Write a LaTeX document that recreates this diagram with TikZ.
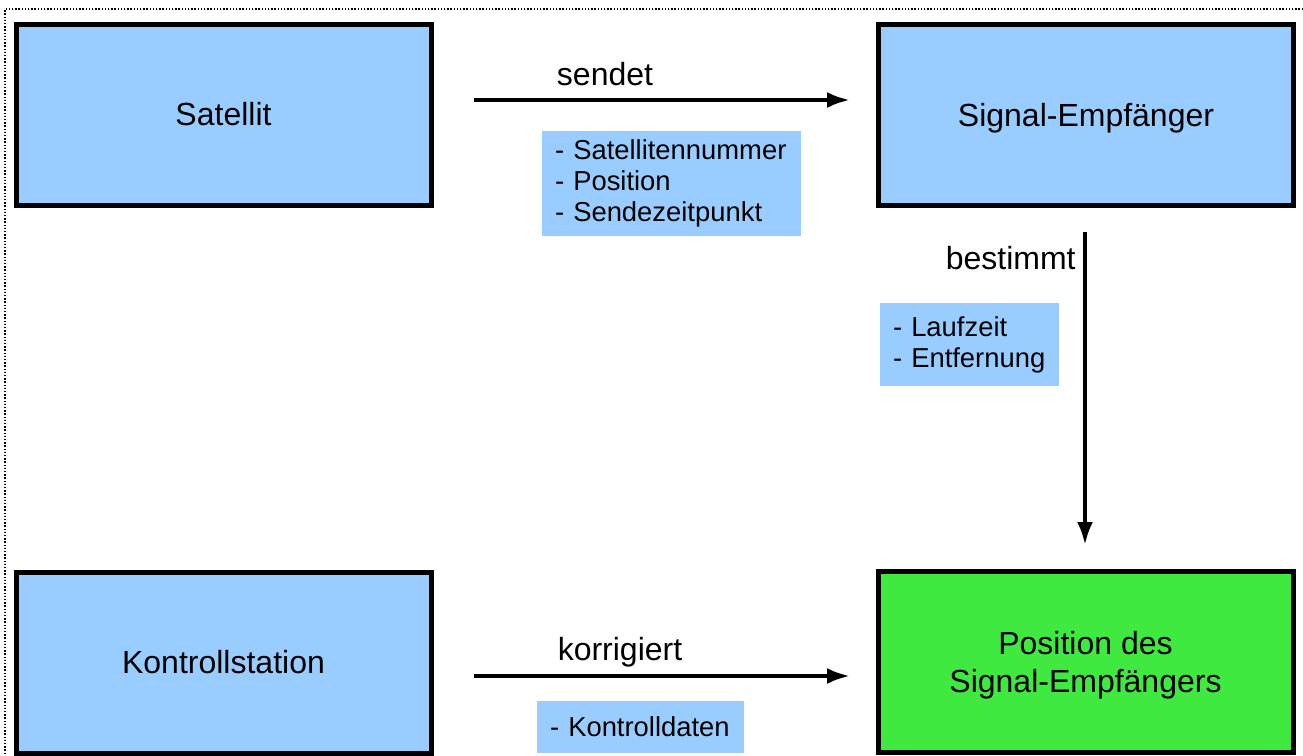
\documentclass[tikz,border=0pt]{standalone}
\usepackage{fontspec}
\setmainfont{Liberation Sans}
\usetikzlibrary{arrows.meta}
\definecolor{boxblue}{HTML}{99CCFF}
\definecolor{boxgreen}{HTML}{3FE93F}

\begin{document}
\begin{tikzpicture}[x=0.5pt, y=-0.5pt,
		block/.style={draw=black, line width=2.5pt, fill=boxblue, minimum width=207.5pt, minimum height=90.5pt, align=center, font=\fontsize{16}{19}\selectfont},
		infobox/.style={fill=boxblue, inner xsep=6.5pt, inner ysep=0pt, align=left, font=\fontsize{13.7}{15.5}\selectfont},
		verb/.style={inner sep=0pt, font=\fontsize{16}{19}\selectfont},
		flow/.style={line width=2pt, -{Latex[length=11.5pt, width=8pt]}},
		frame/.style={line width=0.7pt, dash pattern=on 0.7pt off 0.9pt}]
		%%%%% START %%%%%
		
		\useasboundingbox (0, 0) rectangle (1303, 756);
		\draw[frame] (1303, 9) -- (5, 9) -- (5, 756);
		
		\node[block] (sat) at (223.5, 114.5) {Satellit};
		\node[block, text depth=0pt] (empf) at (1086, 114.5) {Signal-Empfänger};
		\node[block] (kontr) at (223.5, 662.5) {Kontrollstation};
		\node[block, fill=boxgreen, text depth=0pt] (pos) at (1085.5, 661.5) {Position des\\Signal-Empfängers};
		
		\coordinate (sendA) at (474, 100);
		\coordinate (sendB) at (850, 100);
		\draw[flow] (sendA) -- (sendB);
		\node[verb] (sendet) at (605, 74) {sendet};
		\node[infobox, text width=116.5pt, minimum height=52.5pt] (daten) at (671.5, 183) {- Satellitennummer\\- Position\\- Sendezeitpunkt};
		
		\coordinate (bestA) at (1085, 232);
		\coordinate (bestB) at (1085, 545);
		\draw[flow] (bestA) -- (bestB);
		\node[verb, anchor=east] (bestimmt) at (1076, 258.5) {bestimmt};
		\node[infobox, text width=76.5pt, minimum height=41.5pt] (lauf) at (969.5, 344.5) {- Laufzeit\\- Entfernung};
		
		\coordinate (korrA) at (474, 676);
		\coordinate (korrB) at (850, 676);
		\draw[flow] (korrA) -- (korrB);
		\node[verb] (korrigiert) at (620, 652) {korrigiert};
		\node[infobox, text width=90.5pt, minimum height=26pt] (kdaten) at (640.5, 727) {- Kontrolldaten};
		
		%%%%% END %%%%%
\end{tikzpicture}
\end{document}
